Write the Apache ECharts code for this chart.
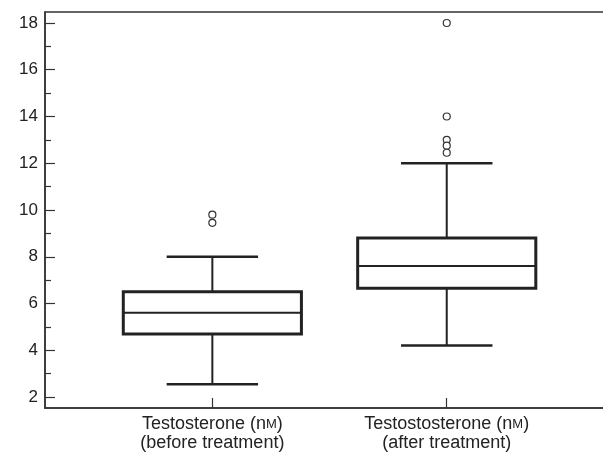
<!DOCTYPE html>
<html>
<head>
<meta charset="utf-8">
<script src="https://cdn.jsdelivr.net/npm/echarts@6/dist/echarts.min.js"></script>
<style>
  html, body { margin: 0; padding: 0; background: #fff; }
  #main { width: 603px; height: 452px; }
</style>
</head>
<body>
<div id="main"></div>
<script>
// groups (x positions 1 and 2)
const categories = ['Testosterone (nM)\n(before treatment)', 'Testostosterone (nM)\n(after treatment)'];
const catPos = [1, 2];
// [min, q1, median, q3, max]
const boxStats = [
  [2.55, 4.7, 5.6, 6.5, 8.0],
  [4.2, 6.65, 7.6, 8.8, 12.0]
];
const outliersBefore = [9.8, 9.45];
const outliersAfter = [18, 14, 13.0, 12.75, 12.45];
const yTicks = [2, 4, 6, 8, 10, 12, 14, 16, 18];
const yMinorTicks = [3, 5, 7, 9, 11, 13, 15, 17];

const ink = '#222';
const font = 'Liberation Sans, Arial, sans-serif';

const boxData = boxStats.map((s, i) => [catPos[i]].concat(s));
const outlierData = outliersBefore.map(v => [catPos[0], v])
  .concat(outliersAfter.map(v => [catPos[1], v]));

function renderBox(params, api) {
  const x = api.value(0);
  const unit = api.size([1, 0])[0];
  const boxHalf = unit * 0.38;
  const capHalf = unit * 0.195;
  const pMin = api.coord([x, api.value(1)]);
  const pQ1 = api.coord([x, api.value(2)]);
  const pMed = api.coord([x, api.value(3)]);
  const pQ3 = api.coord([x, api.value(4)]);
  const pMax = api.coord([x, api.value(5)]);
  const cx = pMed[0];
  const thin = { stroke: ink, lineWidth: 2 };
  return {
    type: 'group',
    children: [
      { type: 'line', shape: { x1: cx, y1: pMax[1], x2: cx, y2: pQ3[1] }, style: thin },
      { type: 'line', shape: { x1: cx, y1: pQ1[1], x2: cx, y2: pMin[1] }, style: thin },
      { type: 'line', shape: { x1: cx - capHalf, y1: pMax[1], x2: cx + capHalf, y2: pMax[1] }, style: { stroke: ink, lineWidth: 2.5 } },
      { type: 'line', shape: { x1: cx - capHalf, y1: pMin[1], x2: cx + capHalf, y2: pMin[1] }, style: { stroke: ink, lineWidth: 2.5 } },
      { type: 'rect', shape: { x: cx - boxHalf, y: pQ3[1], width: boxHalf * 2, height: pQ1[1] - pQ3[1] },
        style: { fill: '#fff', stroke: ink, lineWidth: 3 } },
      { type: 'line', shape: { x1: cx - boxHalf, y1: pMed[1], x2: cx + boxHalf, y2: pMed[1] }, style: thin }
    ]
  };
}

const option = {
  backgroundColor: '#fff',
  animation: false,
  textStyle: { fontFamily: font },
  grid: {
    left: 45, right: -5, top: 12, bottom: 44,
    show: true, borderColor: '#333', borderWidth: 1.5,
    outerBoundsMode: 'none'
  },
  xAxis: {
    type: 'value',
    min: 0.286,
    max: 2.688,
    splitLine: { show: false },
    axisLine: { show: true, onZero: false, lineStyle: { color: '#333', width: 1.5 } },
    axisTick: { show: true, inside: true, length: 10, customValues: catPos, lineStyle: { color: '#333', width: 1.2 } },
    axisLabel: {
      customValues: catPos,
      margin: 7,
      color: ink,
      fontSize: 18,
      lineHeight: 19,
      fontFamily: font,
      formatter: function (v) {
        const i = catPos.indexOf(v);
        if (i < 0) return '';
        return categories[i].replace('nM', 'n{sc|M}');
      },
      rich: {
        sc: { fontSize: 13, color: ink, fontFamily: font, lineHeight: 19 }
      }
    }
  },
  yAxis: [
    {
      type: 'value',
      min: 1.53,
      max: 18.47,
      splitLine: { show: false },
      axisLine: { show: true, onZero: false, lineStyle: { color: '#333', width: 1.5 } },
      axisTick: { show: true, inside: true, length: 10, customValues: yTicks, lineStyle: { color: '#333', width: 1.2 } },
      axisLabel: { customValues: yTicks, color: ink, fontSize: 17, margin: 7, fontFamily: font }
    },
    {
      type: 'value',
      position: 'left',
      min: 1.53,
      max: 18.47,
      splitLine: { show: false },
      axisLine: { show: false },
      axisTick: { show: true, inside: true, length: 6, customValues: yMinorTicks, lineStyle: { color: '#333', width: 1.2 } },
      axisLabel: { show: false }
    }
  ],
  series: [
    {
      type: 'custom',
      renderItem: renderBox,
      encode: { x: 0, y: [1, 2, 3, 4, 5] },
      data: boxData,
      z: 2
    },
    {
      type: 'scatter',
      data: outlierData,
      symbol: 'circle',
      symbolSize: 7,
      itemStyle: { color: '#fff', borderColor: '#333', borderWidth: 1.2, opacity: 1 },
      z: 3
    }
  ]
};

const myChart = echarts.init(document.getElementById('main'));
myChart.setOption(option);
window.addEventListener('resize', () => {
  myChart.resize();
});
</script>
</body>
</html>
